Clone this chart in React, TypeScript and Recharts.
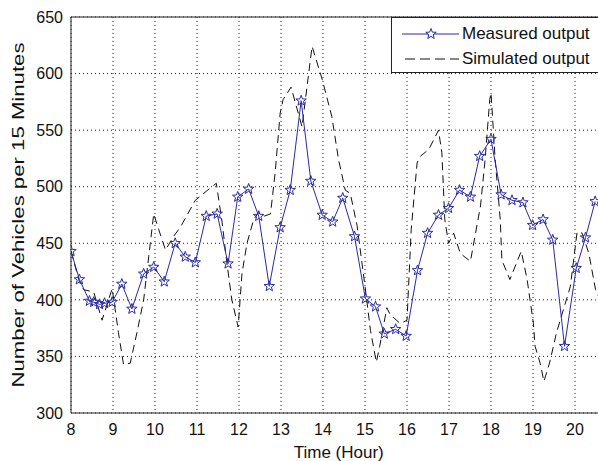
import React from 'react';
import {
  LineChart, Line, XAxis, YAxis, CartesianGrid, ReferenceLine
} from 'recharts';

// measured output (blue stars), hour of day -> vehicles per 15 min
const measuredT = [8.0, 8.2, 8.44, 8.54, 8.68, 8.8, 8.98, 9.21, 9.45, 9.73, 9.97, 10.22, 10.48, 10.72, 10.96, 11.22, 11.48, 11.74, 11.97, 12.23, 12.47, 12.72, 12.98, 13.22, 13.48, 13.71, 13.98, 14.23, 14.47, 14.75, 15.01, 15.25, 15.46, 15.73, 15.98, 16.25, 16.49, 16.75, 16.99, 17.25, 17.51, 17.73, 18.0, 18.24, 18.5, 18.76, 18.99, 19.24, 19.47, 19.75, 20.03, 20.25, 20.48];
const measuredV = [443, 418, 399, 398, 396, 397, 398, 414, 392, 423, 429, 416, 450, 438, 433, 474, 476, 432, 491, 498, 474, 412, 464, 497, 576, 505, 475, 469, 490, 456, 401, 394, 370, 374, 368, 426, 459, 475, 481, 497, 491, 527, 542, 493, 488, 486, 466, 471, 453, 359, 428, 455, 487];

// simulated output (dashed)
const simT = [8.0, 8.2, 8.3, 8.54, 8.74, 8.98, 9.13, 9.25, 9.41, 9.57, 9.73, 9.85, 9.97, 10.09, 10.25, 10.44, 10.6, 10.96, 11.22, 11.46, 11.6, 11.71, 11.83, 11.98, 12.07, 12.19, 12.35, 12.46, 12.6, 12.75, 12.86, 12.98, 13.05, 13.24, 13.5, 13.74, 13.98, 14.21, 14.37, 14.53, 14.65, 14.81, 15.0, 15.13, 15.27, 15.35, 15.52, 15.6, 15.84, 16.0, 16.1, 16.24, 16.32, 16.52, 16.75, 16.83, 16.9, 16.99, 17.11, 17.27, 17.51, 17.75, 17.86, 17.97, 18.0, 18.1, 18.22, 18.26, 18.45, 18.72, 18.86, 19.01, 19.05, 19.17, 19.26, 19.4, 19.56, 19.89, 20.05, 20.17, 20.33, 20.49, 20.6];
const simV = [443, 416, 409, 407, 382, 410, 371, 343, 344, 371, 400, 438, 476, 462, 444, 456, 464, 488, 496, 503, 468, 433, 400, 376, 423, 450, 471, 477, 474, 476, 512, 565, 577, 588, 553, 624, 595, 562, 524, 497, 494, 466, 412, 373, 345, 359, 393, 387, 379, 382, 462, 521, 527, 533, 550, 530, 471, 450, 459, 441, 434, 483, 524, 577, 583, 524, 471, 435, 418, 443, 418, 379, 359, 344, 328, 345, 371, 412, 460, 459, 441, 409, 400];

const xTicks = [8, 9, 10, 11, 12, 13, 14, 15, 16, 17, 18, 19, 20];
const yTicks = [300, 350, 400, 450, 500, 550, 600, 650];

const measured = measuredT.map((t, i) => ({ t, v: measuredV[i] }));
const simulated = simT.map((t, i) => ({ t, v: simV[i] }));

const BLUE = '#2a2aa0';
const FONT = 'Liberation Sans, Arial, sans-serif';

function starPoints(cx: number, cy: number, ro = 5.5, ri = 2.3) {
  const pts: string[] = [];
  for (let k = 0; k < 10; k++) {
    const r = k % 2 === 0 ? ro : ri;
    const a = -Math.PI / 2 + (k * Math.PI) / 5;
    pts.push(`${(cx + r * Math.cos(a)).toFixed(2)},${(cy + r * Math.sin(a)).toFixed(2)}`);
  }
  return pts.join(' ');
}

const StarDot = (props: any) => {
  const { cx, cy, key } = props;
  if (cx == null || cy == null) return null;
  return <polygon key={key} points={starPoints(cx, cy)} fill="none" stroke={BLUE} strokeWidth={1} />;
};

// legend box sits over the top-right of the plot, cut by the window edge
const LegendBox = () => (
  <div style={{ position: 'absolute', left: 391, top: 17, width: 240, height: 56, border: '1px solid #222', background: '#fff', fontFamily: FONT, fontSize: 17, color: '#111', boxSizing: 'border-box' }}>
    <div style={{ display: 'flex', alignItems: 'center', height: 27, marginTop: 2 }}>
      <svg width={70} height={20}>
        <line x1={10} y1={10} x2={67} y2={10} stroke={BLUE} strokeWidth={1} />
        <polygon points={starPoints(39, 10)} fill="#fff" stroke={BLUE} strokeWidth={1} />
      </svg>
      <span>Measured output</span>
    </div>
    <div style={{ display: 'flex', alignItems: 'center', height: 24 }}>
      <svg width={70} height={20}>
        <line x1={13} y1={10} x2={67} y2={10} stroke="#111" strokeWidth={1} strokeDasharray="10 5" />
      </svg>
      <span>Simulated output</span>
    </div>
  </div>
);

const YLabel = ({ viewBox }: any) => {
  const x = viewBox.x + 8;
  const y = viewBox.y + viewBox.height / 2;
  return (
    <text x={x} y={y} transform={`rotate(-90, ${x}, ${y})`} textAnchor="middle" dominantBaseline="central"
      fontFamily={FONT} fontSize={16} fill="#111" textLength={345} lengthAdjust="spacingAndGlyphs">
      Number of Vehicles per 15 Minutes
    </text>
  );
};

export default function App() {
  return (
    <div style={{ width: 598, height: 461, overflow: 'hidden', background: '#fff', position: 'relative' }}>
      <style>{'body{margin:0}'}</style>
      <LineChart width={620} height={461} margin={{ top: 17, right: 13.5, left: 10, bottom: 0 }}>
        <CartesianGrid stroke="#222" strokeDasharray="1 3" />
        <XAxis
          dataKey="t"
          type="number"
          domain={[8, 20.75]}
          ticks={xTicks}
          allowDataOverflow
          height={48}
          tickLine={false}
          tickMargin={5}
          axisLine={{ stroke: '#222' }}
          tick={{ fill: '#111', fontSize: 16, fontFamily: FONT }}
          label={{ value: 'Time (Hour)', position: 'insideBottom', offset: 3, fill: '#111', fontSize: 17, fontFamily: FONT }}
        />
        <YAxis
          dataKey="v"
          type="number"
          domain={[300, 650]}
          ticks={yTicks}
          width={61}
          tickLine={false}
          axisLine={{ stroke: '#222' }}
          tick={{ fill: '#111', fontSize: 16, fontFamily: FONT }}
          label={<YLabel />}
        />
        <ReferenceLine y={650} stroke="#222" strokeWidth={1} />
        <Line data={simulated} dataKey="v" type="linear" stroke="#111" strokeWidth={1}
          strokeDasharray="8 5" dot={false} isAnimationActive={false} name="Simulated output" />
        <Line data={measured} dataKey="v" type="linear" stroke={BLUE} strokeWidth={1}
          dot={<StarDot />} isAnimationActive={false} name="Measured output" />
      </LineChart>
      <LegendBox />
    </div>
  );
}
